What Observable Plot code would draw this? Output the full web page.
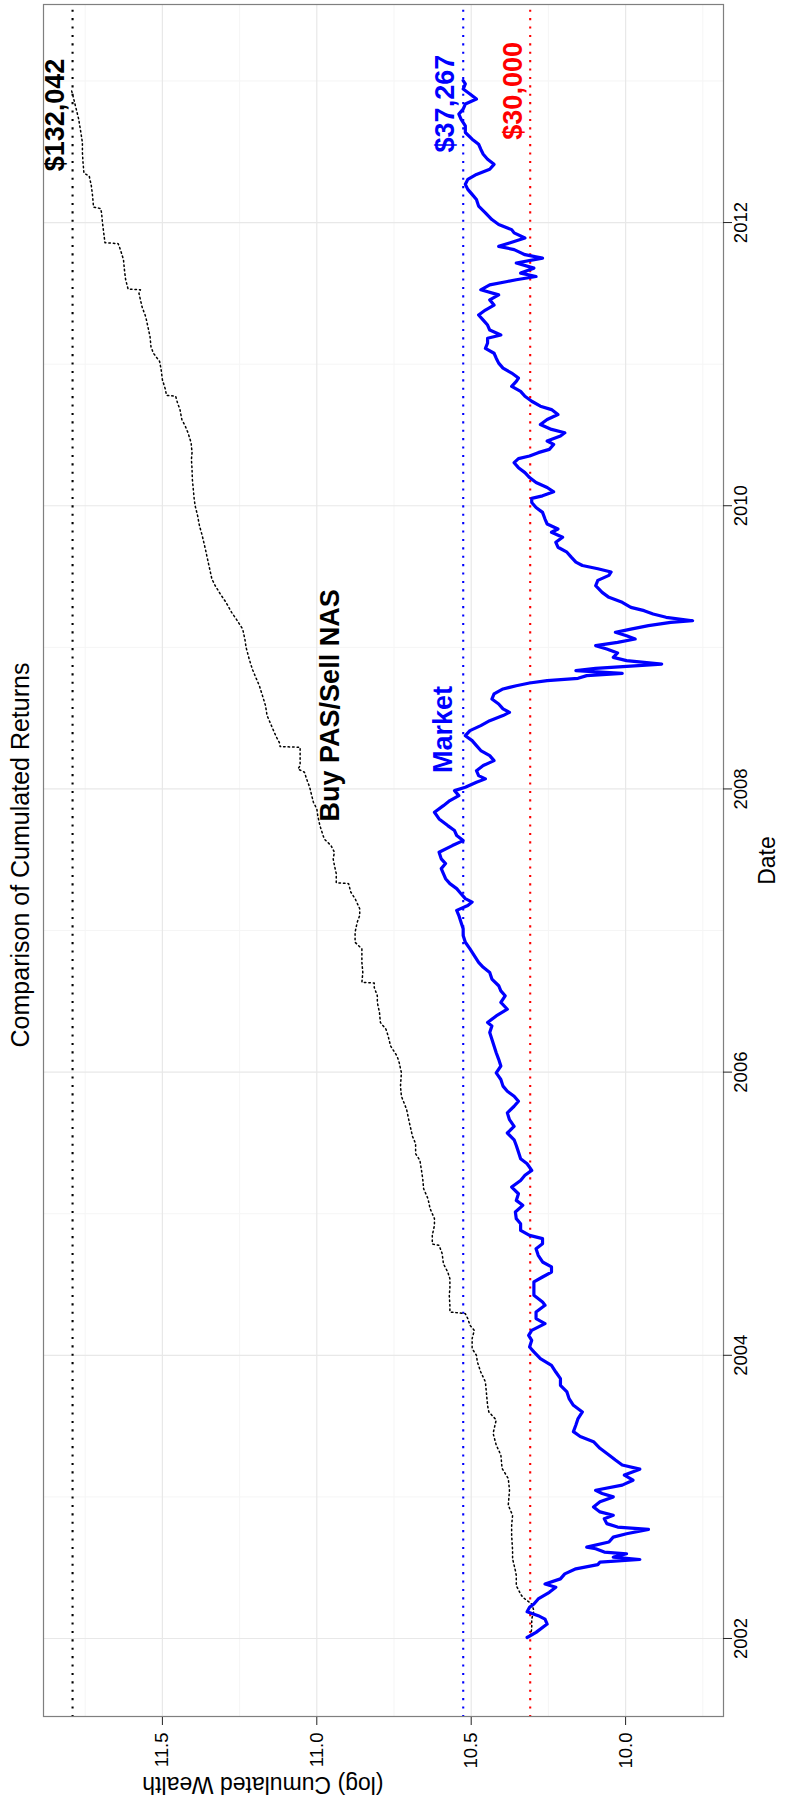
<!DOCTYPE html>
<html>
<head>
<meta charset="utf-8">
<script src="https://cdn.jsdelivr.net/npm/d3@7"></script>
<script src="https://cdn.jsdelivr.net/npm/@observablehq/plot@0.6"></script>
<style>
  html, body { margin: 0; padding: 0; background: #fff; overflow: hidden; }
  #wrap { position: relative; width: 785px; height: 1805px; overflow: hidden; background: #fff; }
  #fig { position: absolute; left: 0; top: 0; width: 1805px; height: 785px;
         transform-origin: 0 0; transform: translate(0, 1805px) rotate(-90deg);
         font-family: "Liberation Sans", Arial, Helvetica, sans-serif; }
  #title { height: 43px; width: 1805px; position: relative; }
  #title span { position: absolute; top: 5px; left: 100px; width: 1700px; text-align: center;
         font-size: 25px; line-height: 30px; color: #000; }
</style>
</head>
<body>
<div id="wrap"><div id="fig"><div id="title"><span>Comparison of Cumulated Returns</span></div><div id="chart"></div></div></div>
<script>
// Market (blue) : decimal year, log cumulated wealth
const marketYear = [2002.007,2002.043,2002.102,2002.137,2002.161,2002.189,2002.220,2002.243,2002.279,2002.326,2002.362,2002.385,2002.421,2002.456,2002.492,2002.522,2002.539,2002.558,2002.574,2002.598,2002.610,2002.634,2002.645,2002.681,2002.716,2002.740,2002.771,2002.787,2002.811,2002.846,2002.870,2002.894,2002.929,2002.965,2003.000,2003.024,2003.047,2003.083,2003.118,2003.154,2003.196,2003.225,2003.260,2003.296,2003.343,2003.390,2003.426,2003.461,2003.508,
2003.553,2003.600,2003.647,2003.694,2003.741,2003.788,2003.835,2003.882,2003.929,2003.976,2004.024,2004.059,2004.106,2004.141,2004.176,2004.224,2004.259,2004.306,2004.353,2004.376,2004.424,2004.471,2004.518,2004.553,2004.588,2004.624,2004.659,2004.706,2004.753,2004.788,2004.824,2004.847,2004.882,2004.929,2004.965,2005.012,2005.059,2005.094,2005.141,2005.188,2005.235,2005.271,2005.306,2005.353,2005.388,2005.435,2005.482,
2005.522,2005.570,2005.617,2005.664,2005.712,2005.759,2005.794,2005.830,2005.865,2005.901,2005.948,2005.995,2006.043,2006.090,2006.137,2006.184,2006.232,2006.279,2006.326,2006.350,2006.397,2006.444,2006.492,2006.539,2006.574,2006.610,2006.657,2006.704,2006.740,2006.775,2006.823,2006.870,2006.917,2006.965,2007.012,2007.059,2007.106,2007.142,2007.177,2007.201,2007.225,2007.260,2007.296,2007.331,2007.366,2007.402,2007.437,2007.473,
2007.506,2007.553,2007.600,2007.635,2007.671,2007.706,2007.741,2007.788,2007.835,2007.882,2007.918,2007.953,2007.988,2008.012,2008.047,2008.071,2008.094,2008.129,2008.165,2008.200,2008.235,2008.271,2008.306,2008.341,2008.376,2008.412,2008.447,2008.482,2008.518,2008.541,2008.565,2008.600,2008.635,2008.671,2008.706,2008.729,2008.748,2008.765,2008.781,2008.800,2008.816,2008.835,2008.852,2008.882,2008.906,2008.929,2008.960,2008.988,2009.012,2009.035,2009.059,2009.082,2009.106,2009.129,2009.153,2009.176,2009.188,2009.212,2009.235,2009.259,2009.282,2009.318,2009.353,2009.388,2009.435,
2009.473,2009.508,2009.532,2009.555,2009.578,2009.602,2009.637,2009.672,2009.707,2009.742,2009.778,2009.813,2009.836,2009.871,2009.906,2009.953,2009.988,2010.023,2010.052,2010.070,2010.098,2010.129,2010.164,2010.199,2010.234,2010.269,2010.304,2010.333,2010.351,2010.375,2010.398,2010.433,2010.457,2010.492,2010.515,2010.539,2010.574,2010.609,2010.644,2010.679,2010.703,2010.738,2010.773,2010.808,2010.843,2010.878,2010.902,2010.937,2010.972,2011.007,2011.042,2011.077,2011.112,2011.148,2011.183,2011.206,2011.241,2011.276,2011.311,2011.347,2011.382,2011.417,
2011.454,2011.489,2011.525,2011.560,2011.584,2011.596,2011.619,2011.643,2011.678,2011.714,2011.749,2011.773,2011.809,2011.832,2011.856,2011.891,2011.927,2011.950,2011.986,2012.021,2012.069,2012.116,2012.163,2012.199,2012.234,2012.270,2012.305,2012.340,2012.376,2012.411,2012.447,2012.482,2012.518,2012.553,2012.589,2012.636,2012.683,2012.730,2012.766,2012.801,2012.837,2012.872,2012.908,2012.943,2012.979,2013.002];
const marketValue = [10.319,10.290,10.254,10.261,10.283,10.319,10.311,10.297,10.283,10.247,10.226,10.261,10.211,10.197,10.161,10.090,10.083,9.954,10.040,9.997,10.069,10.097,10.126,10.054,10.040,9.997,9.926,10.026,10.061,10.069,10.040,10.083,10.104,10.083,10.040,10.076,10.097,10.011,9.976,10.004,9.954,10.011,10.033,10.054,10.083,10.104,10.147,10.169,10.161,
10.154,10.140,10.169,10.183,10.190,10.211,10.211,10.226,10.240,10.276,10.297,10.311,10.304,10.314,10.304,10.261,10.290,10.290,10.261,10.269,10.297,10.297,10.297,10.269,10.240,10.240,10.269,10.283,10.290,10.269,10.269,10.311,10.340,10.340,10.354,10.357,10.333,10.354,10.347,10.369,10.340,10.326,10.304,10.319,10.340,10.347,10.354,
10.361,10.383,10.361,10.376,10.383,10.361,10.347,10.361,10.383,10.397,10.404,10.419,10.404,10.411,10.419,10.426,10.433,10.440,10.433,10.447,10.419,10.383,10.404,10.390,10.404,10.411,10.433,10.440,10.461,10.476,10.490,10.504,10.519,10.526,10.526,10.533,10.540,10.547,10.511,10.497,10.519,10.533,10.547,10.569,10.583,10.590,10.597,10.583,
10.597,10.604,10.561,10.526,10.547,10.554,10.576,10.604,10.619,10.590,10.569,10.540,10.554,10.519,10.483,10.454,10.476,10.483,10.461,10.426,10.440,10.469,10.483,10.497,10.519,10.504,10.469,10.440,10.397,10.376,10.397,10.411,10.433,10.426,10.397,10.354,10.311,10.254,10.154,10.126,10.011,10.161,10.097,9.883,9.997,10.040,10.026,10.061,10.097,10.026,9.969,9.997,10.033,9.983,9.926,9.854,9.783,9.869,9.911,9.940,9.983,10.011,10.054,10.076,10.097,
10.090,10.054,10.047,10.090,10.140,10.161,10.176,10.190,10.219,10.226,10.204,10.240,10.219,10.254,10.261,10.269,10.290,10.304,10.304,10.269,10.233,10.254,10.290,10.311,10.326,10.347,10.361,10.347,10.311,10.283,10.247,10.233,10.254,10.211,10.197,10.240,10.276,10.254,10.219,10.240,10.276,10.304,10.326,10.340,10.369,10.354,10.347,10.369,10.397,10.411,10.419,10.426,10.454,10.447,10.447,10.404,10.440,10.447,10.461,10.476,10.454,10.426,
10.440,10.411,10.469,10.440,10.383,10.354,10.290,10.340,10.297,10.354,10.269,10.326,10.361,10.411,10.376,10.326,10.361,10.369,10.411,10.433,10.454,10.476,10.483,10.497,10.511,10.519,10.511,10.483,10.440,10.426,10.447,10.461,10.469,10.476,10.497,10.519,10.519,10.533,10.540,10.526,10.519,10.483,10.504,10.526,10.519,10.526];

// Buy PAS / Sell NAS (black) : decimal year, log cumulated wealth
const stratYear = [2002.019,2002.066,2002.137,2002.196,2002.243,2002.291,2002.314,2002.374,2002.444,2002.480,2002.563,2002.622,2002.728,2002.799,2002.870,2002.941,2003.047,2003.130,2003.201,2003.296,2003.366,2003.449,2003.544,
2003.600,2003.647,2003.741,2003.812,2003.882,2003.953,2004.000,2004.047,2004.118,2004.176,2004.212,2004.259,2004.294,2004.306,2004.353,2004.424,2004.471,2004.541,2004.588,2004.647,2004.718,2004.776,2004.786,2004.847,2004.918,2004.965,2005.035,2005.106,2005.176,2005.247,2005.306,2005.376,2005.424,2005.494,
2005.546,2005.641,2005.735,2005.830,2005.901,2005.995,2006.066,2006.113,2006.184,2006.255,2006.303,2006.350,2006.421,2006.492,2006.539,2006.598,2006.629,2006.634,2006.704,2006.775,2006.870,2006.917,2006.988,2007.059,2007.106,2007.154,2007.225,2007.272,2007.331,2007.338,2007.402,2007.461,
2007.506,2007.553,2007.600,2007.647,2007.694,2007.741,2007.812,2007.859,2007.906,2007.976,2008.012,2008.071,2008.118,2008.141,2008.165,2008.212,2008.294,2008.299,2008.318,2008.376,2008.447,2008.518,2008.588,2008.659,2008.729,2008.800,2008.847,2008.918,2009.000,2009.059,2009.129,2009.200,2009.247,2009.318,2009.365,2009.435,
2009.485,2009.555,2009.625,2009.696,2009.789,2009.859,2009.930,2010.000,2010.047,2010.117,2010.187,2010.258,2010.328,2010.375,2010.445,2010.515,2010.562,2010.609,2010.679,2010.726,2010.773,2010.780,2010.820,2010.890,2010.960,2011.019,2011.077,2011.124,2011.194,2011.265,2011.335,2011.405,
2011.454,2011.501,2011.525,2011.530,2011.596,2011.667,2011.738,2011.809,2011.851,2011.858,2011.927,2011.998,2012.069,2012.099,2012.109,2012.187,2012.258,2012.329,2012.348,2012.423,2012.494,2012.565,2012.636,2012.730,2012.801,2012.872,2012.931];
const stratValue = [10.309,10.304,10.304,10.297,10.304,10.333,10.340,10.354,10.354,10.357,10.366,10.366,10.369,10.369,10.366,10.380,10.376,10.380,10.400,10.404,10.419,10.429,10.419,
10.443,10.447,10.451,10.454,10.469,10.480,10.483,10.497,10.497,10.490,10.504,10.511,10.519,10.569,10.569,10.571,10.569,10.569,10.576,10.590,10.594,10.604,10.626,10.626,10.619,10.619,10.633,10.640,10.654,10.657,10.661,10.666,10.680,10.680,
10.690,10.700,10.709,10.726,10.729,10.726,10.733,10.740,10.761,10.769,10.776,10.794,10.797,10.804,10.804,10.814,10.814,10.854,10.851,10.854,10.854,10.876,10.876,10.869,10.861,10.861,10.876,10.890,10.897,10.937,10.937,10.943,
10.947,10.943,10.954,10.976,10.983,10.990,10.997,11.000,11.011,11.019,11.023,11.033,11.040,11.061,11.054,11.054,11.054,11.119,11.119,11.133,11.147,11.161,11.166,11.176,11.186,11.200,11.209,11.219,11.229,11.233,11.240,11.261,11.276,11.294,11.309,11.329,
11.340,11.347,11.354,11.361,11.371,11.380,11.386,11.394,11.397,11.400,11.403,11.404,11.406,11.404,11.407,11.417,11.426,11.437,11.443,11.451,11.457,11.487,11.490,11.500,11.504,11.509,11.529,11.537,11.540,11.547,11.554,11.566,
11.571,11.576,11.571,11.611,11.619,11.623,11.626,11.636,11.643,11.686,11.690,11.694,11.697,11.700,11.723,11.726,11.730,11.737,11.754,11.757,11.759,11.759,11.764,11.771,11.779,11.787,11.794];

// reference levels (final wealth of each strategy, starting capital)
const refDollars = [132042, 37267, 30000];
const refColors = ["black", "blue", "red"];

// annotations
const annoText = ["$132,042", "$37,267", "$30,000", "Buy PAS/Sell NAS", "Market"];
const annoYear = [2012.76, 2012.84, 2012.93, 2008.59, 2008.42];
const annoValue = [11.846, 10.583, 10.364, 10.955, 10.590];
const annoColor = ["black", "blue", "red", "black", "blue"];

// axes
const xMajor = [2002, 2004, 2006, 2008, 2010, 2012];
const xMinor = [2003, 2005, 2007, 2009, 2011, 2013];
const yMajor = [10.0, 10.5, 11.0, 11.5];
const yMinor = [9.75, 10.25, 10.75, 11.25, 11.75];

const market = marketYear.map((t, i) => ({t, v: marketValue[i]}));
const strat = stratYear.map((t, i) => ({t, v: stratValue[i]}));
const refs = refDollars.map((d, i) => ({v: Math.log(d), c: refColors[i]}));
const anno = annoText.map((s, i) => ({s, t: annoYear[i], v: annoValue[i], c: annoColor[i]}));

const chart = Plot.plot({
  width: 1805,
  height: 742,
  marginLeft: 88,
  marginRight: 5,
  marginTop: 0,
  marginBottom: 62,
  style: {fontFamily: '"Liberation Sans", Arial, Helvetica, sans-serif', background: "transparent", overflow: "visible", color: "#000"},
  x: {type: "linear", domain: [2001.449, 2013.54]},
  y: {domain: [9.683, 11.885]},
  marks: [
    Plot.gridX(xMinor, {stroke: "#F5F5F5", strokeOpacity: 1, strokeWidth: 1}),
    Plot.gridY(yMinor, {stroke: "#F5F5F5", strokeOpacity: 1, strokeWidth: 1}),
    Plot.gridX(xMajor, {stroke: "#E8E8E8", strokeOpacity: 1, strokeWidth: 1.2}),
    Plot.gridY(yMajor, {stroke: "#E8E8E8", strokeOpacity: 1, strokeWidth: 1.2}),
    Plot.ruleY(refs, {y: "v", stroke: "c", strokeWidth: 2.1, strokeDasharray: "2.1,6.3"}),
    Plot.line(strat, {x: "t", y: "v", stroke: "black", strokeWidth: 1.5, strokeDasharray: "1.5,3"}),
    Plot.line(market, {x: "t", y: "v", stroke: "#0000FF", strokeWidth: 3.2, strokeLinejoin: "round"}),
    Plot.text(anno, {x: "t", y: "v", text: "s", fill: "c", fontSize: 27, fontWeight: "bold", lineAnchor: "middle"}),
    Plot.frame({stroke: "#7F7F7F", strokeWidth: 1.2}),
    Plot.axisX({ticks: xMajor, tickFormat: d => String(d), tickSize: 9, tickPadding: 1, fontSize: 18.5, label: null, stroke: "#222"}),
    Plot.axisY({ticks: yMajor, tickFormat: d3.format(".1f"), tickSize: 8, tickPadding: 8, fontSize: 18.5, label: null, stroke: "#222"}),
    Plot.text(["Date"], {frameAnchor: "bottom", dy: 44, lineAnchor: "middle", fontSize: 23, fill: "#000"}),
    Plot.text(["(log) Cumulated Wealth"], {frameAnchor: "left", dx: -68, rotate: -90, lineAnchor: "middle", fontSize: 23, fill: "#000"})
  ]
});
document.getElementById("chart").appendChild(chart);
</script>
</body>
</html>
